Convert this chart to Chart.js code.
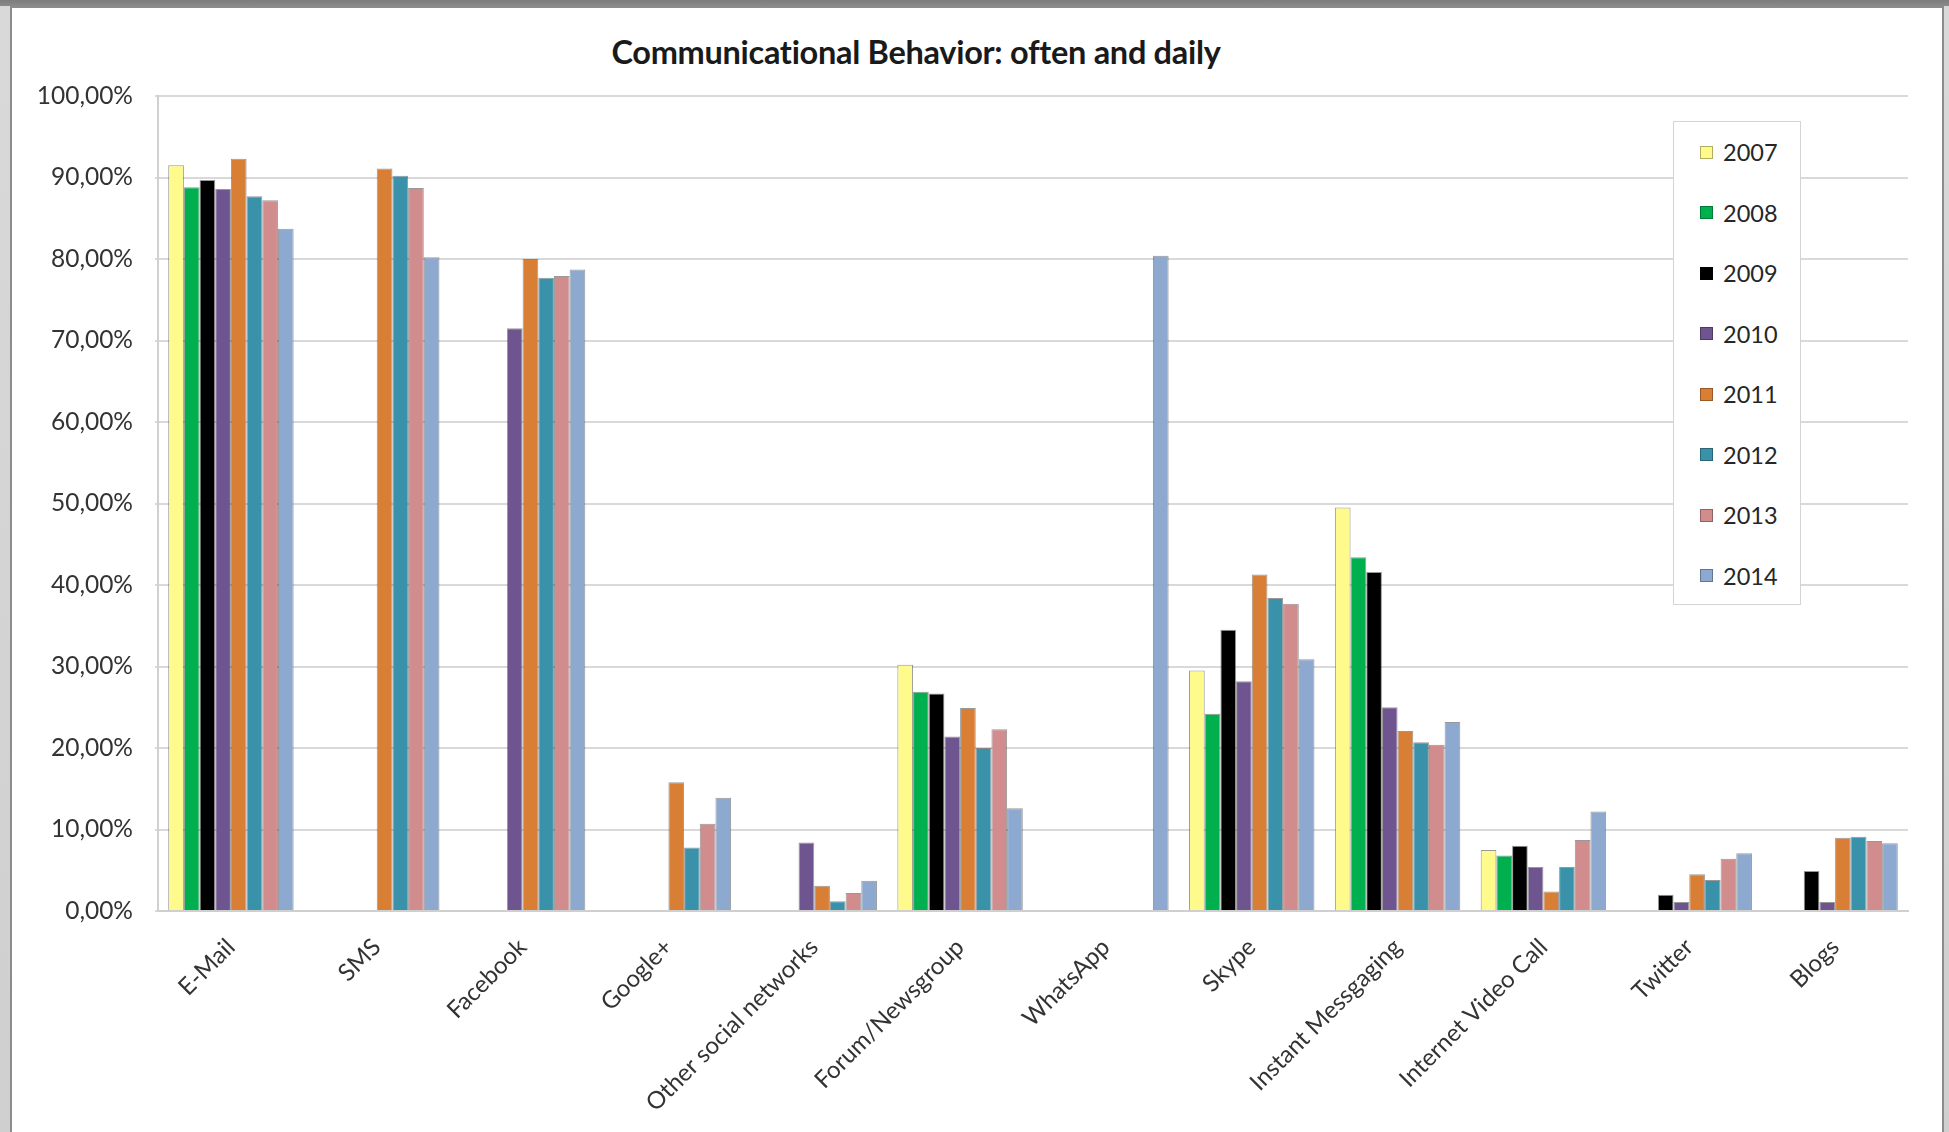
<!DOCTYPE html>
<html>
<head>
<meta charset="utf-8">
<title>Communicational Behavior: often and daily</title>
<script src="https://cdn.jsdelivr.net/npm/chart.js@4.4.1/dist/chart.umd.min.js"></script>
<style>
    html, body { margin: 0; padding: 0; }
    body {
        width: 1949px; height: 1132px; overflow: hidden; position: relative;
        background: linear-gradient(180deg, #7d7d7d 0, #8a8a8a 6px, #d9d9d9 6px, #cfcfcf 100%);
        font-family: Lato, "Liberation Sans", sans-serif;
    }
    #panel {
        position: absolute; left: 10px; top: 6px; width: 1934px; height: 1130px;
        box-sizing: border-box; background: #fff;
        border: 2px solid #8c8c8c; border-bottom: none;
    }
    #chartTitle {
        position: absolute; left: 0; top: 32px; width: 1832px; text-align: center;
        font-weight: bold; font-size: 32.5px; color: #1a1a1a; letter-spacing: -0.3px;
    }
    #chartWrap { position: absolute; left: 12px; top: 7px; width: 1916px; height: 1125px; }
    #legend {
        position: absolute; left: 1673px; top: 121px; width: 128px; height: 484px;
        box-sizing: border-box; background: #fff; border: 1px solid #d4d4d4;
    }
    #legend .item {
        height: 60.5px; display: flex; align-items: center; padding-left: 26px;
        font-size: 23.5px; color: #262626;
    }
    #legend .box {
        width: 13px; height: 13px; margin-right: 10px; box-sizing: border-box;
        border: 1px solid rgba(0, 0, 0, 0.3);
    }
</style>
</head>
<body>
<div id="panel"></div>
<div id="chartTitle">Communicational Behavior: often and daily</div>
<div id="chartWrap"><canvas id="barChart" width="1916" height="1125"></canvas></div>
<div id="legend"></div>
<script>
(() => {
    'use strict';

    // categories and years
    const categories = ['E-Mail', 'SMS', 'Facebook', 'Google+', 'Other social networks', 'Forum/Newsgroup',
        'WhatsApp', 'Skype', 'Instant Messgaging', 'Internet Video Call', 'Twitter', 'Blogs'];
    const years = ['2007', '2008', '2009', '2010', '2011', '2012', '2013', '2014'];
    const yearColors = ['#fffa8c', '#00b04f', '#000000', '#6f558f', '#d97f35', '#3a92aa', '#d18c8d', '#8ea9d0'];

    // share in percent, one array per year (null = not surveyed)
    const values2007 = [91.5, null, null, null, null, 30.2, null, 29.5, 49.5, 7.5, null, null];
    const values2008 = [88.8, null, null, null, null, 26.9, null, 24.2, 43.4, 6.8, null, null];
    const values2009 = [89.7, null, null, null, null, 26.7, null, 34.5, 41.6, 8.0, 2.0, 4.9];
    const values2010 = [88.6, null, 71.5, null, 8.4, 21.4, null, 28.2, 25.0, 5.4, 1.1, 1.1];
    const values2011 = [92.3, 91.1, 80.0, 15.8, 3.1, 24.9, null, 41.3, 22.1, 2.4, 4.5, 9.0];
    const values2012 = [87.7, 90.2, 77.7, 7.8, 1.2, 20.0, null, 38.4, 20.7, 5.4, 3.8, 9.1];
    const values2013 = [87.2, 88.7, 77.9, 10.7, 2.2, 22.3, null, 37.7, 20.4, 8.7, 6.4, 8.6];
    const values2014 = [83.7, 80.2, 78.7, 13.9, 3.7, 12.6, 80.4, 30.9, 23.2, 12.2, 7.1, 8.3];
    const yearValues = [values2007, values2008, values2009, values2010, values2011, values2012, values2013, values2014];

    // y tick labels, German style
    const yTickLabel = v => v.toFixed(2).replace('.', ',') + '%';

    const datasets = years.map((year, i) => ({
        label: year,
        data: yearValues[i],
        backgroundColor: yearColors[i],
        borderColor: 'rgba(50, 50, 50, 0.5)',
        borderWidth: 1,
        borderSkipped: 'bottom',
        categoryPercentage: 0.86,
        barPercentage: 1.0
    }));

    new Chart(document.getElementById('barChart'), {
        type: 'bar',
        data: { labels: categories, datasets: datasets },
        options: {
            responsive: false,
            animation: false,
            layout: { padding: { top: 89, right: 20, bottom: 0, left: 0 } },
            scales: {
                x: {
                    afterFit: scale => { scale.height = 221; },
                    grid: { display: false },
                    border: { display: true, color: '#cfcfcf', width: 2 },
                    ticks: {
                        minRotation: 45,
                        maxRotation: 45,
                        padding: 14,
                        color: '#333333',
                        font: { family: 'Lato', size: 24 }
                    }
                },
                y: {
                    min: 0,
                    max: 100,
                    afterFit: scale => { scale.width = 146; },
                    grid: { color: '#d9d9d9', lineWidth: 2, tickLength: 3 },
                    border: { display: true, color: '#d0d0d0', width: 2 },
                    ticks: {
                        stepSize: 10,
                        padding: 22,
                        color: '#333333',
                        font: { family: 'Lato', size: 24.5 },
                        callback: v => yTickLabel(v)
                    }
                }
            },
            plugins: {
                legend: { display: false },
                tooltip: { enabled: false }
            }
        }
    });

    // legend box inside the plot, like the original sheet
    const legend = document.getElementById('legend');
    years.forEach((year, i) => {
        const item = document.createElement('div');
        item.className = 'item';
        const box = document.createElement('span');
        box.className = 'box';
        box.style.background = yearColors[i];
        item.appendChild(box);
        item.appendChild(document.createTextNode(year));
        legend.appendChild(item);
    });
})();
</script>
</body>
</html>
